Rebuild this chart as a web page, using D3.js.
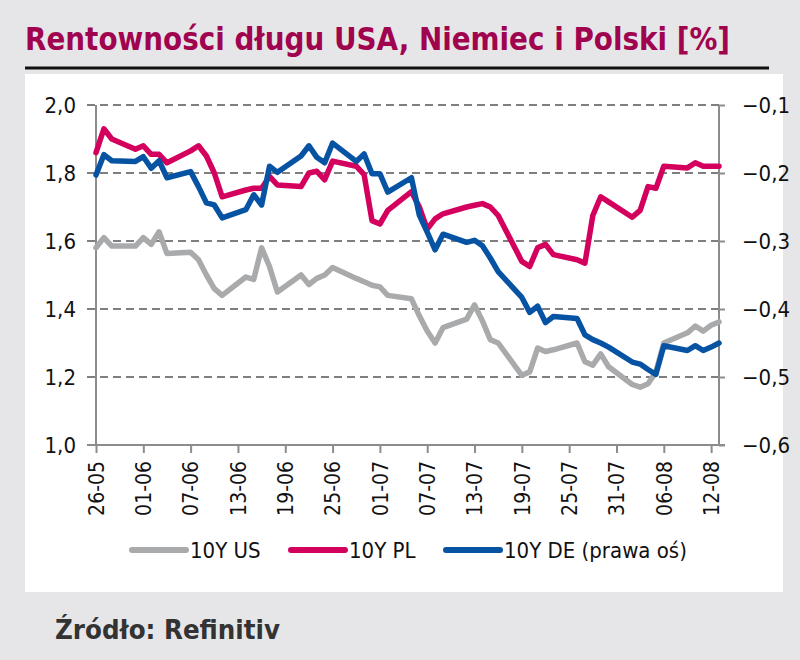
<!DOCTYPE html>
<html>
<head>
<meta charset="utf-8">
<script src="https://cdn.jsdelivr.net/npm/d3@7"></script>
<style>
	body{margin:0;background:#e6e6e8;}
	svg text{font-family:"DejaVu Sans Condensed","DejaVu Sans",sans-serif;}
</style>
</head>
<body>
<div id="chart"></div>
<script>
// business days 26-05-2021 .. 13-08-2021
var dates=["2021-05-26","2021-05-27","2021-05-28","2021-05-31",
	"2021-06-01","2021-06-02","2021-06-03","2021-06-04",
	"2021-06-07","2021-06-08","2021-06-09","2021-06-10","2021-06-11",
	"2021-06-14","2021-06-15","2021-06-16","2021-06-17","2021-06-18",
	"2021-06-21","2021-06-22","2021-06-23","2021-06-24","2021-06-25",
	"2021-06-28","2021-06-29","2021-06-30","2021-07-01","2021-07-02",
	"2021-07-05","2021-07-06","2021-07-07","2021-07-08","2021-07-09",
	"2021-07-12","2021-07-13","2021-07-14","2021-07-15","2021-07-16",
	"2021-07-19","2021-07-20","2021-07-21","2021-07-22","2021-07-23",
	"2021-07-26","2021-07-27","2021-07-28","2021-07-29","2021-07-30",
	"2021-08-02","2021-08-03","2021-08-04","2021-08-05","2021-08-06",
	"2021-08-09","2021-08-10","2021-08-11","2021-08-12","2021-08-13"]

var us10=[1.58,1.61,1.585,1.585,
	1.61,1.59,1.627,1.563,
	1.567,1.545,1.50,1.46,1.44,
	1.494,1.487,1.58,1.525,1.45,
	1.50,1.472,1.49,1.50,1.522,
	1.49,1.48,1.47,1.465,1.44,
	1.43,1.38,1.335,1.30,1.345,
	1.37,1.412,1.365,1.31,1.30,
	1.205,1.215,1.285,1.275,1.28,
	1.30,1.245,1.235,1.268,1.23,
	1.178,1.17,1.18,1.215,1.30,
	1.33,1.35,1.335,1.352,1.362]

var pl10=[1.86,1.93,1.90,1.87,
	1.88,1.855,1.855,1.83,
	1.865,1.88,1.85,1.80,1.73,
	1.75,1.755,1.755,1.79,1.765,
	1.76,1.80,1.805,1.78,1.835,
	1.82,1.795,1.66,1.65,1.69,
	1.745,1.70,1.635,1.665,1.68,
	1.70,1.705,1.71,1.70,1.675,
	1.54,1.525,1.58,1.59,1.56,
	1.545,1.535,1.675,1.73,1.715,
	1.67,1.69,1.76,1.755,1.82,
	1.815,1.83,1.82,1.82,1.82]

var de10=[-0.203,-0.173,-0.182,-0.183,
	-0.176,-0.193,-0.182,-0.207,
	-0.198,-0.22,-0.244,-0.247,-0.266,
	-0.254,-0.232,-0.247,-0.19,-0.199,
	-0.175,-0.16,-0.177,-0.185,-0.156,
	-0.183,-0.172,-0.201,-0.201,-0.228,
	-0.207,-0.262,-0.287,-0.313,-0.29,
	-0.302,-0.299,-0.307,-0.325,-0.345,
	-0.383,-0.405,-0.396,-0.42,-0.411,
	-0.414,-0.438,-0.445,-0.45,-0.456,
	-0.478,-0.481,-0.489,-0.496,-0.454,
	-0.461,-0.454,-0.461,-0.456,-0.45]

var xTicks=["2021-05-26","2021-06-01","2021-06-07","2021-06-13","2021-06-19","2021-06-25","2021-07-01",
	"2021-07-07","2021-07-13","2021-07-19","2021-07-25","2021-07-31","2021-08-06","2021-08-12"]
var leftTicks=[1.0,1.2,1.4,1.6,1.8,2.0]
var rightTicks=[-0.6,-0.5,-0.4,-0.3,-0.2,-0.1]

var seriesNames=["10Y US","10Y PL","10Y DE (prawa oś)"]
var seriesColors=["#a9aaac","#d4005e","#0753a3"]

var parse=d3.timeParse("%Y-%m-%d")
var W=800, H=660
var plot={left:96,right:719,top:105,bottom:445}

var svg=d3.select("#chart").append("svg")
	.attr("width",W).attr("height",H)

svg.append("rect").attr("width",W).attr("height",H).attr("fill","#e6e6e8")

// title + rule
svg.append("text")
	.attr("x",25).attr("y",50)
	.attr("font-size",32).attr("font-weight","bold")
	.attr("fill","#a1044f")
	.attr("textLength",705).attr("lengthAdjust","spacingAndGlyphs")
	.text("Rentowności długu USA, Niemiec i Polski [%]")
svg.append("line")
	.attr("x1",25).attr("x2",769).attr("y1",68).attr("y2",68)
	.attr("stroke","#111").attr("stroke-width",3)

// white panel
svg.append("rect").attr("x",25).attr("y",74).attr("width",758).attr("height",518).attr("fill","#fff")

var xScale=d3.scaleTime()
	.domain([parse(dates[0]),parse(dates[dates.length-1])])
	.range([plot.left,plot.right])
var yLeft=d3.scaleLinear().domain([1.0,2.0]).range([plot.bottom,plot.top])
var yRight=d3.scaleLinear().domain([-0.6,-0.1]).range([plot.bottom,plot.top])

var fmt=d3.format(".1f")
var comma=function(v){return fmt(v).replace(".",",")}

// gridlines
svg.append("g").selectAll("line")
	.data(leftTicks.filter(function(d){return d>1.0}))
	.enter().append("line")
	.attr("x1",plot.left-9).attr("x2",plot.right)
	.attr("y1",function(d){return yLeft(d)}).attr("y2",function(d){return yLeft(d)})
	.attr("stroke","#7f7f7f").attr("stroke-width",2).attr("stroke-dasharray","8,5")

// left axis
var gl=svg.append("g").attr("transform","translate("+plot.left+",0)")
	.call(d3.axisLeft(yLeft).tickValues(leftTicks).tickSize(0).tickPadding(20).tickFormat(comma))
gl.select(".domain").remove()
gl.selectAll("text").attr("font-size",22).attr("fill","#111").attr("font-family","DejaVu Sans Condensed")

// right axis
var gr=svg.append("g").attr("transform","translate("+plot.right+",0)")
	.call(d3.axisRight(yRight).tickValues(rightTicks).tickSize(6).tickPadding(17).tickFormat(comma))
gr.select(".domain").remove()
gr.selectAll("line").attr("stroke","#8c8c8c").attr("stroke-width",2)
gr.selectAll("text").attr("font-size",22).attr("fill","#111").attr("font-family","DejaVu Sans Condensed")

// axis lines
svg.append("line").attr("x1",plot.left).attr("x2",plot.left).attr("y1",plot.top).attr("y2",plot.bottom)
	.attr("stroke","#8c8c8c").attr("stroke-width",2)
svg.append("line").attr("x1",plot.right).attr("x2",plot.right).attr("y1",plot.top).attr("y2",plot.bottom)
	.attr("stroke","#8c8c8c").attr("stroke-width",2)
svg.append("line").attr("x1",plot.left-9).attr("x2",plot.right+6).attr("y1",plot.bottom).attr("y2",plot.bottom)
	.attr("stroke","#8c8c8c").attr("stroke-width",2)

// x axis
var gx=svg.append("g").attr("transform","translate(0,"+plot.bottom+")")
	.call(d3.axisBottom(xScale).tickValues(xTicks.map(parse)).tickSize(8).tickFormat(d3.timeFormat("%d-%m")))
gx.select(".domain").remove()
gx.selectAll("line").attr("stroke","#8c8c8c").attr("stroke-width",2)
gx.selectAll("text")
	.attr("font-size",21).attr("fill","#111").attr("font-family","DejaVu Sans Condensed")
	.attr("transform","rotate(-90)")
	.attr("text-anchor","end")
	.attr("x",-16).attr("y",0).attr("dy","0.35em")

// lines
var lineL=d3.line().x(function(d,i){return xScale(parse(dates[i]))}).y(function(d){return yLeft(d)})
var lineR=d3.line().x(function(d,i){return xScale(parse(dates[i]))}).y(function(d){return yRight(d)})

var series=[{v:us10,l:lineL},{v:pl10,l:lineL},{v:de10,l:lineR}]
series.forEach(function(s,i){
	svg.append("path")
		.datum(s.v)
		.attr("fill","none")
		.attr("stroke",seriesColors[i])
		.attr("stroke-width",5.5)
		.attr("stroke-linejoin","round")
		.attr("stroke-linecap","round")
		.attr("d",s.l)
})

// legend
var legX=[132,291,446]
var leg=svg.append("g")
seriesNames.forEach(function(n,i){
	leg.append("line")
		.attr("x1",legX[i]).attr("x2",legX[i]+54).attr("y1",550).attr("y2",550)
		.attr("stroke",seriesColors[i]).attr("stroke-width",6).attr("stroke-linecap","round")
	leg.append("text")
		.attr("x",legX[i]+58).attr("y",558)
		.attr("font-size",22).attr("fill","#111")
		.text(n)
})

// source
svg.append("text")
	.attr("x",55).attr("y",639)
	.attr("font-size",27).attr("font-weight","bold").attr("fill","#333")
	.attr("textLength",225).attr("lengthAdjust","spacingAndGlyphs")
	.text("Źródło: Refinitiv")
</script>
</body>
</html>
